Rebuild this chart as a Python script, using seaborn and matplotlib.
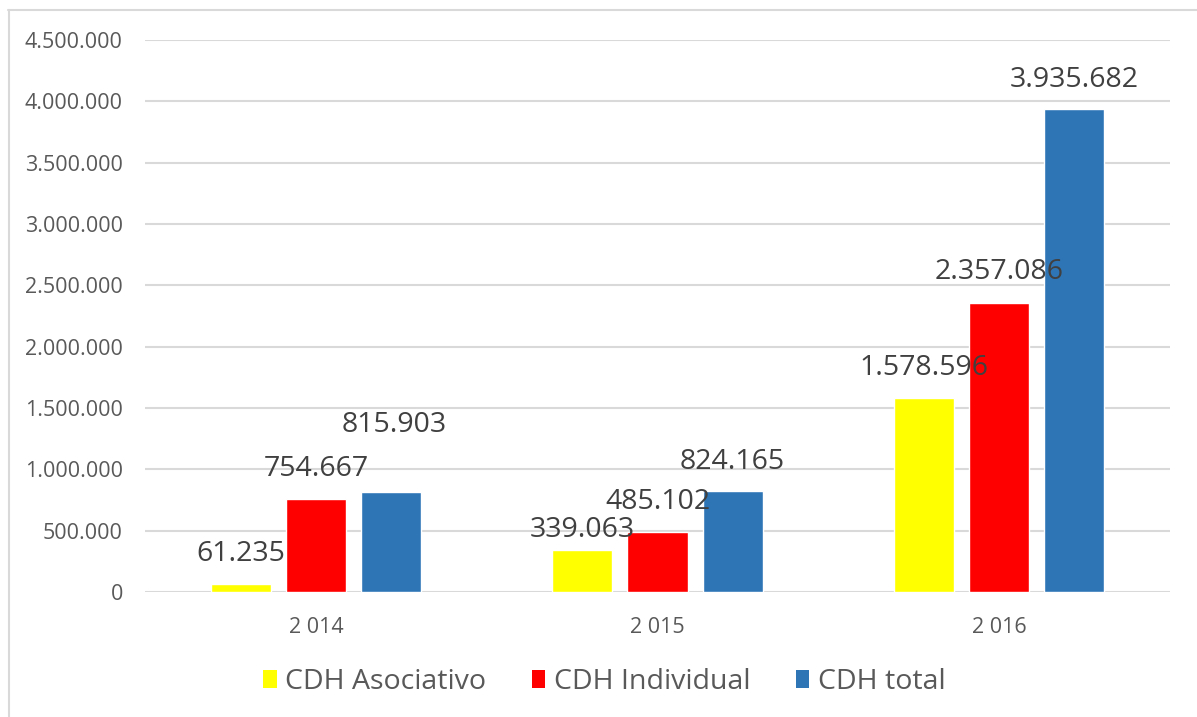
import pandas as pd
import matplotlib.pyplot as plt
import seaborn as sns
from matplotlib.patches import Patch
from matplotlib.lines import Line2D

# Data
years = ["2 014", "2 015", "2 016"]
series = ["CDH Asociativo", "CDH Individual", "CDH total"]
asociativo = [61235, 339063, 1578596]
individual = [754667, 485102, 2357086]
total = [815903, 824165, 3935682]
colors = ["#FFFF00", "#FF0000", "#2E75B6"]

# label offsets (points) for the hand-placed labels of the original
label_offsets = [
    [(0, 22), (0, 15), (0, 22)],
    [(0, 22), (0, 22), (0, 22)],
    [(2, 48), (0, 21), (0, 21)],
]

df = pd.DataFrame({
    "Year": years * 3,
    "Serie": [s for s in series for _ in years],
    "Value": asociativo + individual + total,
})

def fmt(v):
    return f"{v:,.0f}".replace(",", ".")

sns.set_style("white")
plt.rcParams["font.family"] = ["Open Sans", "DejaVu Sans"]

fig = plt.figure(figsize=(11.97, 7.17), dpi=100)
ax = fig.add_axes([145 / 1197, 1 - 592 / 717, 1025 / 1197, 552 / 717])

sns.barplot(data=df, x="Year", y="Value", hue="Serie", palette=colors,
            width=0.66, gap=0.2, saturation=1, legend=False, ax=ax)

ax.set_ylim(0, 4500000)
ax.set_xlim(-0.5, 2.5)
ax.set_yticks(range(0, 4500001, 500000))
ax.set_yticklabels([fmt(t) for t in range(0, 4500001, 500000)])
ax.yaxis.grid(True, color="#D9D9D9", linewidth=1.5)
ax.set_axisbelow(True)
for s in ax.spines.values():
    s.set_visible(False)
ax.tick_params(axis="y", length=0, pad=16, labelsize=15.5, labelcolor="#595959")
ax.tick_params(axis="x", length=0, pad=18, labelsize=15.5, labelcolor="#595959")
ax.set_xlabel("")
ax.set_ylabel("")

for cont, vals, offs in zip(ax.containers, [asociativo, individual, total], label_offsets):
    for bar, v, off in zip(cont, vals, offs):
        ax.annotate(fmt(v), (bar.get_x() + bar.get_width() / 2, bar.get_height()),
                    xytext=off, textcoords="offset points", ha="center", va="center",
                    fontsize=20.5, color="#404040")

handles = [Patch(facecolor=c, edgecolor="none", label=s) for c, s in zip(colors, series)]
fig.legend(handles=handles, loc="center", bbox_to_anchor=(0.505, 1 - 682 / 717), ncol=3,
           frameon=False, fontsize=20.5, labelcolor="#595959", handlelength=0.47,
           handleheight=0.62, handletextpad=0.3, columnspacing=1.6)

# chart frame (top and left edges visible)
fig.add_artist(Line2D([8 / 1197, 1], [1 - 10 / 717] * 2, color="#D9D9D9", linewidth=1.5))
fig.add_artist(Line2D([8.5 / 1197] * 2, [0, 1 - 10 / 717], color="#D9D9D9", linewidth=1.5))

fig.savefig("out.png", dpi=100)
